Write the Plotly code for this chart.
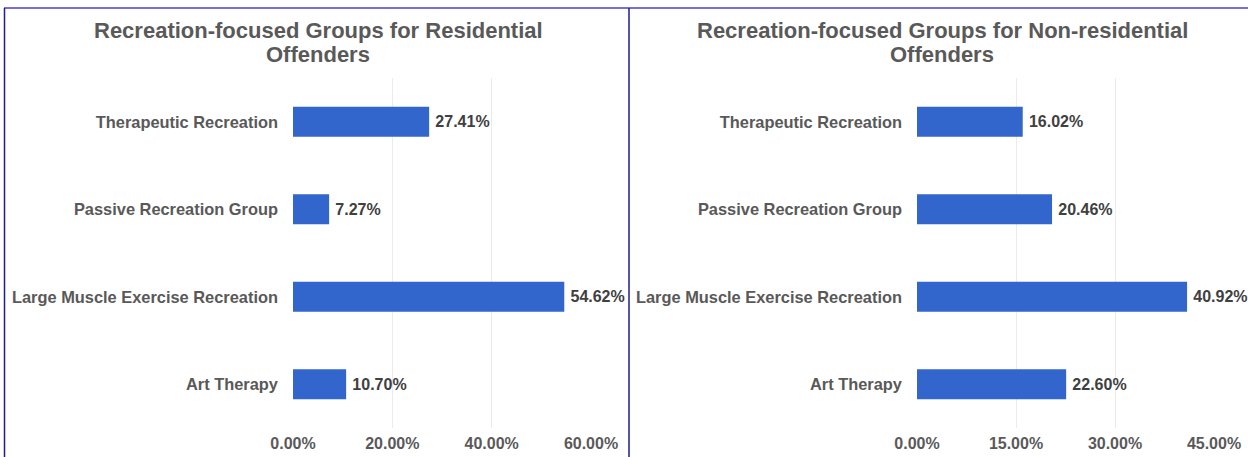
import plotly.graph_objects as go

categories = ["Therapeutic Recreation", "Passive Recreation Group",
              "Large Muscle Exercise Recreation", "Art Therapy"]
residential = [27.41, 7.27, 54.62, 10.70]
non_residential = [16.02, 20.46, 40.92, 22.60]
left_ticks = [0, 20, 40, 60]
right_ticks = [0, 15, 30, 45]
left_title = ["Recreation-focused Groups for Residential", "Offenders"]
right_title = ["Recreation-focused Groups for Non-residential", "Offenders"]

W, H = 1248, 457
BAR = "#3366cc"
GRAY = "#595959"
FONT = "Liberation Sans"

def px(x):
    return x / W

def py(y):
    return 1 - y / H

fig = go.Figure()
for vals, xa, ya in [(residential, "x", "y"), (non_residential, "x2", "y2")]:
    fig.add_trace(go.Bar(
        y=categories, x=vals, orientation="h", xaxis=xa, yaxis=ya,
        marker=dict(color=BAR, line=dict(width=0)), width=0.345,
        texttemplate="\u2009%{x:.2f}%", textposition="outside",
        textfont=dict(family=FONT, size=16, color="#404040", weight="bold"),
        cliponaxis=False, constraintext="none", showlegend=False,
        hoverinfo="skip"))

ydom = [py(428), py(78)]
common_x = dict(showgrid=True, gridcolor="#ebebeb", gridwidth=1, zeroline=False,
                showline=False, ticks="", ticklabelstandoff=4, automargin=False,
                tickfont=dict(family=FONT, size=16, color=GRAY, weight="bold"),
                fixedrange=True)
common_y = dict(autorange="reversed", showgrid=False, zeroline=False, showline=False,
                ticks="", ticklabelstandoff=14, automargin=False,
                tickfont=dict(family=FONT, size=16.4, color=GRAY, weight="bold"),
                fixedrange=True)

fig.update_layout(
    width=W, height=H, margin=dict(l=0, r=0, t=0, b=0, autoexpand=False),
    paper_bgcolor="white", plot_bgcolor="white", bargap=0.6,
    xaxis=dict(domain=[px(293), px(591)], range=[0, 60], tickvals=left_ticks,
               ticktext=[f"{t:.2f}%" for t in left_ticks], anchor="y", **common_x),
    yaxis=dict(domain=ydom, anchor="x", **common_y),
    xaxis2=dict(domain=[px(917), px(1214)], range=[0, 45], tickvals=right_ticks,
                ticktext=[f"{t:.2f}%" for t in right_ticks], anchor="y2", **common_x),
    yaxis2=dict(domain=ydom, anchor="x2", **common_y),
)

for lines, cx in [(left_title, 318), (right_title, 942)]:
    for line, cy in zip(lines, [31, 55]):
        fig.add_annotation(text=line, x=px(cx), y=py(cy), xref="paper", yref="paper",
                           xanchor="center", yanchor="middle", showarrow=False,
                           font=dict(family=FONT, size=22, color=GRAY, weight="bold"))

# panel borders
fig.add_shape(type="line", xref="paper", yref="paper", x0=px(4), x1=1, y0=py(8), y1=py(8),
              line=dict(color="#7a6fd6", width=2))
fig.add_shape(type="line", xref="paper", yref="paper", x0=px(4.5), x1=px(4.5), y0=0, y1=py(8),
              line=dict(color="#1e1e8c", width=1.5))
fig.add_shape(type="line", xref="paper", yref="paper", x0=px(629), x1=px(629), y0=0, y1=py(8),
              line=dict(color="#1e1e8c", width=1.5))

fig.write_html("out.html", config={"displayModeBar": False},
               post_script="document.body.style.margin='0';document.body.style.overflow='hidden';")
